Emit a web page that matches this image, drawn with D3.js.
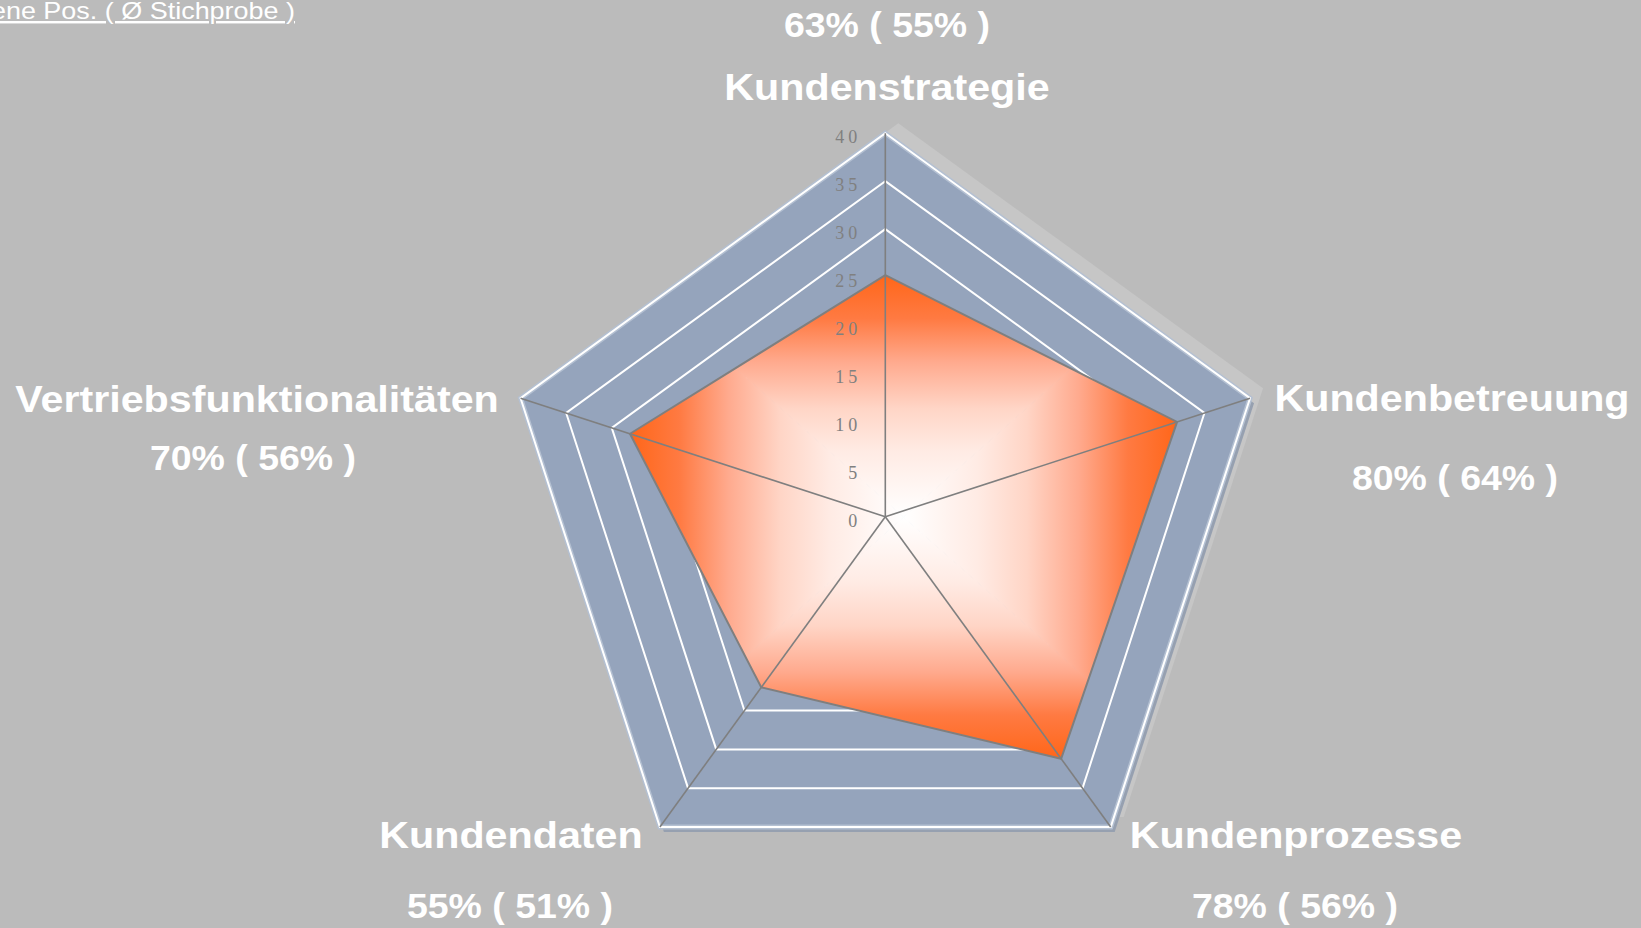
<!DOCTYPE html>
<html>
<head>
<meta charset="utf-8">
<script src="https://cdn.jsdelivr.net/npm/d3@7"></script>
<style>
html,body{margin:0;padding:0;background:#BBBBBB;overflow:hidden;}
svg{display:block;}
</style>
</head>
<body>
<svg id="chart" width="1641" height="928"></svg>
<script>
// ---- data ----
const categories = ["Kundenstrategie", "Kundenbetreuung", "Kundenprozesse", "Kundendaten", "Vertriebsfunktionalitäten"];
const ownValues = [25.2, 32, 31.2, 22, 28];          // eigene Position (Skala 0-40)
const ownPct = ["63%", "80%", "78%", "55%", "70%"];
const samplePct = ["55%", "64%", "56%", "51%", "56%"];
const tickValues = [0, 5, 10, 15, 20, 25, 30, 35, 40];
const maxValue = 40;
const legendText = "Eigene Pos. ( Ø Stichprobe )";

// ---- layout ----
const W = 1641, H = 928;
const cx = 885.3, cy = 516.7, R = 383.5;
const svg = d3.select("#chart");
const r = d3.scaleLinear().domain([0, maxValue]).range([0, R]);
const n = categories.length;
const ang = d3.scaleLinear().domain([0, n]).range([0, 2 * Math.PI]);
const pt = (i, v) => [cx + r(v) * Math.sin(ang(i)), cy - r(v) * Math.cos(ang(i))];
const ring = v => d3.range(n).map(i => pt(i, v));
const line = d3.line().curve(d3.curveLinearClosed);

svg.append("rect").attr("width", W).attr("height", H).attr("fill", "#BBBBBB");

const defs = svg.append("defs");

// shadows / bevel
svg.append("path").attr("d", line(ring(maxValue).map(p => [p[0] + 13, p[1] - 10])))
  .attr("fill", "#C6C6C6");
svg.append("path").attr("d", line(ring(maxValue).map(p => [p[0] + 4, p[1] + 5])))
  .attr("fill", "#96A0B0");

// blue background area
svg.append("path").attr("d", line(ring(maxValue)))
  .attr("fill", "#95A4BC").attr("stroke", "#B4C0D2").attr("stroke-width", 5).attr("stroke-linejoin", "miter");

// white grid rings
svg.append("g").selectAll("path").data(tickValues.filter(t => t > 0)).join("path")
  .attr("d", t => line(ring(t)))
  .attr("fill", "none").attr("stroke", "#FFFFFF").attr("stroke-width", 2);

// orange series with rectangular "from centre" gradient
const pts = ownValues.map((v, i) => pt(i, v));
const x0 = d3.min(pts, p => p[0]), x1 = d3.max(pts, p => p[0]);
const y0 = d3.min(pts, p => p[1]), y1 = d3.max(pts, p => p[1]);
const gx = (x0 + x1) / 2, gy = (y0 + y1) / 2;
const stops = [
  [0, "#FFFFFF"], [0.27, "#FFEBE4"], [0.45, "#FFD5C6"], [0.64, "#FFAA8E"], [0.82, "#FF7A42"], [1, "#FF6619"]
];
const quads = [
  {id: "gT", tri: [[x0, y0], [x1, y0], [gx, gy]], from: [gx, gy], to: [gx, y0]},
  {id: "gR", tri: [[x1, y0], [x1, y1], [gx, gy]], from: [gx, gy], to: [x1, gy]},
  {id: "gB", tri: [[x1, y1], [x0, y1], [gx, gy]], from: [gx, gy], to: [gx, y1]},
  {id: "gL", tri: [[x0, y1], [x0, y0], [gx, gy]], from: [gx, gy], to: [x0, gy]}
];
quads.forEach(q => {
  const g = defs.append("linearGradient").attr("id", q.id).attr("gradientUnits", "userSpaceOnUse")
    .attr("x1", q.from[0]).attr("y1", q.from[1]).attr("x2", q.to[0]).attr("y2", q.to[1]);
  stops.forEach(s => g.append("stop").attr("offset", s[0]).attr("stop-color", s[1]));
});
defs.append("clipPath").attr("id", "seriesClip").append("path").attr("d", line(pts));
const sg = svg.append("g").attr("clip-path", "url(#seriesClip)");
quads.forEach(q => {
  sg.append("path").attr("d", line(q.tri)).attr("fill", `url(#${q.id})`)
    .attr("stroke", `url(#${q.id})`).attr("stroke-width", 1);
});
svg.append("path").attr("d", line(pts)).attr("fill", "none")
  .attr("stroke", "#7F7F7F").attr("stroke-width", 2).attr("stroke-linejoin", "miter");

// spokes
svg.append("g").selectAll("line").data(d3.range(n)).join("line")
  .attr("x1", cx).attr("y1", cy)
  .attr("x2", i => pt(i, maxValue)[0]).attr("y2", i => pt(i, maxValue)[1])
  .attr("stroke", "#7F7F7F").attr("stroke-width", 1.6);

// tick labels
svg.append("g").selectAll("text").data(tickValues).join("text")
  .attr("x", cx - 28 + 4).attr("y", t => cy - r(t) + 10)
  .attr("text-anchor", "end")
  .attr("font-family", "'Liberation Serif','Times New Roman',serif")
  .attr("font-size", 18).attr("letter-spacing", 4)
  .attr("fill", "#808080")
  .text(t => t);

// axis labels
function stretched(sel, sx) {
  sel.each(function () {
    const len = this.getComputedTextLength();
    d3.select(this).attr("textLength", len * sx).attr("lengthAdjust", "spacingAndGlyphs");
  });
}
const labelLayout = [
  {nx: 887, ny: 100, px: 887, py: 37},
  {nx: 1452, ny: 411, px: 1455, py: 490},
  {nx: 1296, ny: 848, px: 1295, py: 918},
  {nx: 511, ny: 848, px: 510, py: 918},
  {nx: 257, ny: 412, px: 253, py: 470}
];
const lab = svg.append("g").attr("font-family", "'Liberation Sans',Arial,sans-serif")
  .attr("font-weight", "bold").attr("fill", "#FFFFFF").attr("text-anchor", "middle");
lab.selectAll("text.name").data(categories).join("text").attr("class", "name")
  .attr("x", (d, i) => labelLayout[i].nx).attr("y", (d, i) => labelLayout[i].ny)
  .attr("font-size", 36.5).text(d => d).call(stretched, 1.13);
lab.selectAll("text.pct").data(ownPct).join("text").attr("class", "pct")
  .attr("x", (d, i) => labelLayout[i].px).attr("y", (d, i) => labelLayout[i].py)
  .attr("font-size", 35).text((d, i) => `${d} ( ${samplePct[i]} )`).call(stretched, 1.07);

// legend (cut off at left edge, as in the original)
const leg = svg.append("text").attr("x", 295).attr("y", 19)
  .attr("text-anchor", "end")
  .attr("font-family", "'Liberation Sans',Arial,sans-serif")
  .attr("font-size", 24.5).attr("fill", "#FFFFFF")
  .attr("text-decoration", "underline")
  .text(legendText);
stretched(leg, 1.1);
</script>
</body>
</html>
